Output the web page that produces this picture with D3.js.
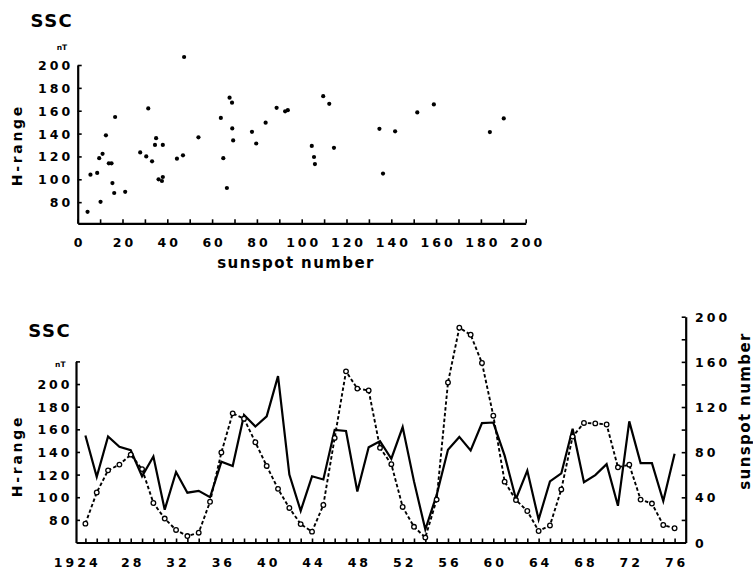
<!DOCTYPE html>
<html>
<head>
<meta charset="utf-8">
<script src="https://cdn.jsdelivr.net/npm/d3@7"></script>
<style>
  html, body { margin: 0; padding: 0; background: #fff; }
  svg { display: block; }
  text { font-family: "DejaVu Sans", sans-serif; font-weight: bold; fill: #000; }
</style>
</head>
<body>
<svg id="chart" width="753" height="569"></svg>
<script>
// Yearly SSC H-range (nT) and sunspot number, 1924-1976
const years = [1924,1925,1926,1927,1928,1929,1930,1931,1932,1933,1934,1935,1936,1937,1938,1939,
  1940,1941,1942,1943,1944,1945,1946,1947,1948,1949,1950,1951,1952,1953,1954,1955,1956,1957,
  1958,1959,1960,1961,1962,1963,1964,1965,1966,1967,1968,1969,1970,1971,1972,1973,1974,1975,1976];

const sunspotNumber = [16.7,44.3,63.9,69.0,77.8,65.0,35.0,21.2,11.1,5.7,8.7,36.1,79.7,114.4,109.6,88.8,
  67.8,47.5,30.6,16.3,9.6,33.2,92.6,151.6,136.3,134.7,83.9,69.4,31.5,13.9,4.4,38.0,141.7,190.2,
  184.0,159.0,112.3,53.9,37.6,27.9,10.2,15.1,47.0,93.8,105.9,105.5,104.5,66.6,68.9,38.0,34.5,15.5,12.6];

const hRange = [154.5,118,153.7,144.5,141.5,118.5,136,89,122.3,104,105.6,100,131.3,127.5,172.7,162.5,
  171.4,207,120,88,118.5,115.7,159.5,158.5,105,144.2,149.5,134,162,114,71.5,102,142,153.3,
  141.3,165.5,166,136.7,98.5,123.5,80.3,114,121,160.5,113.3,119.5,129.2,92.4,167,130.1,130.1,96.7,138.5];

const hTickLabels = [80,100,120,140,160,180,200];
const scatterXLabels = [0,20,40,60,80,100,120,140,160,180,200];
const yearLabels = [1924,1928,1932,1936,1940,1944,1948,1952,1956,1960,1964,1968,1972,1976];
const sunspotAxisLabels = [0,40,80,120,160,200];

const svg = d3.select("#chart");
const tickFont = "12.5px";
const tickSpacing = 3;

function styleAxis(g) {
  g.select(".domain").attr("stroke", "#000").attr("stroke-width", 2.2);
  g.selectAll(".tick line").attr("stroke", "#000").attr("stroke-width", 1.6);
  g.selectAll(".tick text")
    .attr("fill", "#000")
    .style("font-family", "'DejaVu Sans', sans-serif")
    .style("font-weight", "bold")
    .style("font-size", tickFont)
    .style("letter-spacing", tickSpacing + "px");
}

/* ---------- upper panel: H-range vs sunspot number ---------- */
const xS = d3.scaleLinear().domain([0, 200]).range([77.7, 525.7]);
const yS = d3.scaleLinear().domain([61.5, 200]).range([223.3, 65]);

const upper = svg.append("g");

upper.append("g")
  .attr("transform", `translate(0,${yS(61.5)})`)
  .call(d3.axisBottom(xS)
    .tickValues(d3.range(0, 201, 10))
    .tickSize(-4).tickSizeOuter(0).tickPadding(15)
    .tickFormat(d => scatterXLabels.includes(d) ? String(d) : ""))
  .call(styleAxis)
  .call(g => g.selectAll(".tick text").attr("dx", tickSpacing / 2));

upper.append("g")
  .attr("transform", `translate(${xS(0)},0)`)
  .call(d3.axisLeft(yS)
    .tickValues(hTickLabels)
    .tickSize(-4).tickSizeOuter(0).tickPadding(4.5)
    .tickFormat(d => String(d)))
  .call(styleAxis)
  .call(g => g.selectAll(".tick text").attr("dy", "0.36em"));

upper.append("g")
  .selectAll("circle")
  .data(years.map((y, i) => ({ s: sunspotNumber[i], h: hRange[i] })))
  .join("circle")
  .attr("cx", d => xS(d.s))
  .attr("cy", d => yS(d.h))
  .attr("r", 2.1)
  .attr("fill", "#000");

upper.append("text").attr("x", 30.5).attr("y", 26.7)
  .style("font-size", "18px").style("letter-spacing", "1.5px").text("SSC");
upper.append("text").attr("x", 62).attr("y", 50).attr("text-anchor", "middle")
  .style("font-size", "7.5px").text("nT");
upper.append("text")
  .attr("transform", `translate(21.8,${(yS(200) + yS(61.5)) / 2 + 1}) rotate(-90)`)
  .attr("text-anchor", "middle")
  .style("font-size", "14px").style("letter-spacing", "2.7px")
  .text("H-range");
upper.append("text").attr("x", 296).attr("y", 267.5).attr("text-anchor", "middle")
  .style("font-size", "15px").style("letter-spacing", "1.4px")
  .text("sunspot number");

/* ---------- lower panel: yearly series ---------- */
const xB = d3.scaleLinear().domain([1923.17, 1976.98]).range([76, 685.7]);
const yH = d3.scaleLinear().domain([60, 220]).range([542.5, 361.4]);
const yN = d3.scaleLinear().domain([0, 200]).range([542.5, 316.7]);

const lower = svg.append("g");

const xAxisB = lower.append("g")
  .attr("transform", `translate(0,${yH(60)})`)
  .call(d3.axisBottom(xB)
    .tickValues(years)
    .tickSize(-4).tickSizeOuter(0).tickPadding(15.3)
    .tickFormat(d => yearLabels.includes(d) ? (d === 1924 ? "1924" : String(d).slice(2)) : ""))
  .call(styleAxis)
  .call(g => g.selectAll(".tick text").attr("dx", tickSpacing / 2));

// first label: keep the last two digits centred on their tick
xAxisB.selectAll(".tick text").filter(d => d === 1924).each(function () {
  const full = this.getComputedTextLength();
  const t = d3.select(this);
  t.attr("text-anchor", "end").attr("dx", 0);
  t.attr("x", full / 4 + tickSpacing);
});

lower.append("g")
  .attr("transform", `translate(${xB.range()[0]},0)`)
  .call(d3.axisLeft(yH)
    .tickValues([80, 100, 120, 140, 160, 180, 200, 220])
    .tickSize(-4).tickSizeOuter(0).tickPadding(3.5)
    .tickFormat(d => hTickLabels.includes(d) ? String(d) : ""))
  .call(styleAxis)
  .call(g => g.selectAll(".tick text").attr("dy", "0.36em"));

lower.append("g")
  .attr("transform", `translate(${xB.range()[1]},0)`)
  .call(d3.axisRight(yN)
    .tickValues(d3.range(0, 201, 20))
    .tickSize(-4).tickSizeOuter(0).tickPadding(9.3)
    .tickFormat(d => sunspotAxisLabels.includes(d) ? String(d) : ""))
  .call(styleAxis)
  .call(g => g.selectAll(".tick text").attr("dy", "0.36em"));

const solidLine = d3.line().x((d, i) => xB(years[i])).y(d => yH(d));
const dashLine = d3.line().x((d, i) => xB(years[i])).y(d => yN(d));

lower.append("path")
  .datum(hRange)
  .attr("d", solidLine)
  .attr("fill", "none").attr("stroke", "#000").attr("stroke-width", 2.2)
  .attr("stroke-linejoin", "miter");

lower.append("path")
  .datum(sunspotNumber)
  .attr("d", dashLine)
  .attr("fill", "none").attr("stroke", "#000").attr("stroke-width", 1.9)
  .attr("stroke-dasharray", "3.5,2.3");

lower.append("g")
  .selectAll("circle")
  .data(sunspotNumber)
  .join("circle")
  .attr("cx", (d, i) => xB(years[i]))
  .attr("cy", d => yN(d))
  .attr("r", 2.3)
  .attr("fill", "#fff").attr("stroke", "#000").attr("stroke-width", 1.3);

lower.append("text").attr("x", 28.3).attr("y", 336.7)
  .style("font-size", "18px").style("letter-spacing", "1.5px").text("SSC");
lower.append("text").attr("x", 60.3).attr("y", 367.3).attr("text-anchor", "middle")
  .style("font-size", "7.5px").text("nT");
lower.append("text")
  .attr("transform", `translate(21.8,456) rotate(-90)`)
  .attr("text-anchor", "middle")
  .style("font-size", "14px").style("letter-spacing", "2.7px")
  .text("H-range");
lower.append("text")
  .attr("transform", `translate(749.5,411) rotate(-90)`)
  .attr("text-anchor", "middle")
  .style("font-size", "15px").style("letter-spacing", "1.4px")
  .text("sunspot number");
</script>
</body>
</html>
